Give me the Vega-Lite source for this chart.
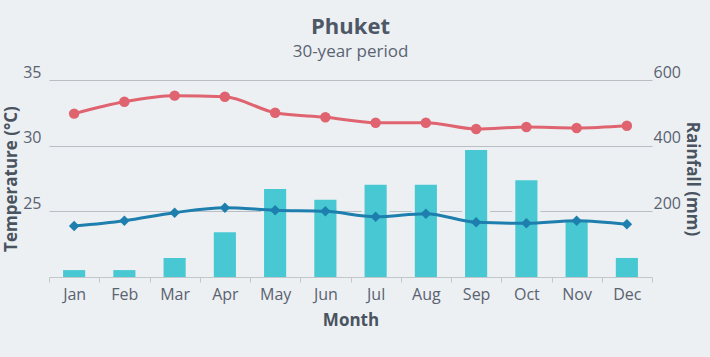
{
  "$schema": "https://vega.github.io/schema/vega-lite/v6.json",
  "autosize": {"type": "none"},
  "padding": {"left": 49, "top": 80, "right": 58, "bottom": 80},
  "width": 603,
  "height": 197,
  "background": "#ECF0F3",
  "title": {
    "text": "Phuket",
    "subtitle": "30-year period",
    "anchor": "middle",
    "font": "Open Sans",
    "fontSize": 22,
    "fontWeight": "bold",
    "color": "#4D5766",
    "subtitleFont": "Open Sans",
    "subtitleFontSize": 17,
    "subtitleColor": "#5A6372",
    "subtitlePadding": 5,
    "offset": 3
  },
  "data": {
    "values": [
      {"month": "Jan", "rain": 21, "tmax": 32.44, "tmin": 23.88},
      {"month": "Feb", "rain": 21, "tmax": 33.35, "tmin": 24.29},
      {"month": "Mar", "rain": 58, "tmax": 33.81, "tmin": 24.9},
      {"month": "Apr", "rain": 136, "tmax": 33.73, "tmin": 25.28},
      {"month": "May", "rain": 268, "tmax": 32.51, "tmin": 25.08},
      {"month": "Jun", "rain": 235, "tmax": 32.16, "tmin": 25.0},
      {"month": "Jul", "rain": 281, "tmax": 31.75, "tmin": 24.59},
      {"month": "Aug", "rain": 281, "tmax": 31.75, "tmin": 24.82},
      {"month": "Sep", "rain": 387, "tmax": 31.27, "tmin": 24.17},
      {"month": "Oct", "rain": 295, "tmax": 31.42, "tmin": 24.09},
      {"month": "Nov", "rain": 168, "tmax": 31.35, "tmin": 24.29},
      {"month": "Dec", "rain": 58, "tmax": 31.52, "tmin": 24.01}
    ]
  },
  "encoding": {
    "x": {
      "field": "month",
      "type": "nominal",
      "sort": null,
      "scale": {"paddingInner": 0, "paddingOuter": 0},
      "axis": {
        "title": "Month",
        "titleFont": "Open Sans",
        "titleFontSize": 17,
        "titleFontWeight": "bold",
        "titleColor": "#4A5360",
        "titlePadding": 10,
        "labelAngle": 0,
        "labelFont": "Open Sans",
        "labelFontSize": 16,
        "labelColor": "#5A6270",
        "labelPadding": 4,
        "tickBand": "extent",
        "tickSize": 5,
        "tickColor": "#C2C7CC",
        "domainColor": "#C2C7CC",
        "domainWidth": 1,
        "grid": false
      }
    }
  },
  "layer": [
    {
      "layer": [
        {
          "mark": {"type": "bar", "color": "#ECF0F3", "width": {"band": 0.56}, "yOffset": -3, "y2Offset": -1},
          "encoding": {
            "y": {"field": "rain", "type": "quantitative"}
          }
        },
        {
          "mark": {"type": "bar", "color": "#47C8D2", "width": {"band": 0.44}, "y2Offset": -1},
          "encoding": {
            "y": {"field": "rain", "type": "quantitative"}
          }
        }
      ],
      "encoding": {
        "y": {
          "field": "rain",
          "type": "quantitative",
          "scale": {"domain": [0, 600], "nice": false, "zero": true},
          "axis": {
            "orient": "right",
            "title": "Rainfall (mm)",
            "titleFont": "Open Sans",
            "titleFontSize": 17,
            "titleFontWeight": "bold",
            "titleColor": "#4A5360",
            "titlePadding": 2,
            "values": [200, 400, 600],
            "labelFont": "Open Sans",
            "labelFontSize": 16,
            "labelColor": "#5A6270",
            "labelPadding": 1,
            "labelBaseline": "alphabetic",
            "labelOffset": -3,
            "ticks": false,
            "domain": false,
            "grid": false
          }
        }
      }
    },
    {
      "transform": [{"fold": ["tmax", "tmin"], "as": ["series", "temp"]}],
      "encoding": {
        "y": {
          "field": "temp",
          "type": "quantitative",
          "scale": {"domain": [20, 35], "nice": false, "zero": false},
          "axis": {
            "orient": "left",
            "title": "Temperature (°C)",
            "titleFont": "Open Sans",
            "titleFontSize": 17,
            "titleFontWeight": "bold",
            "titleColor": "#4A5360",
            "titlePadding": 2,
            "values": [25, 30, 35],
            "labelFont": "Open Sans",
            "labelFontSize": 16,
            "labelColor": "#5A6270",
            "labelPadding": 8,
            "labelBaseline": "alphabetic",
            "labelOffset": -3,
            "ticks": false,
            "domain": false,
            "grid": true,
            "gridColor": "#B9BEC4",
            "gridWidth": 1.2
          }
        },
        "color": {
          "field": "series",
          "type": "nominal",
          "scale": {"domain": ["tmax", "tmin"], "range": ["#DF6470", "#1E7FAE"]},
          "legend": null
        }
      },
      "layer": [
        {
          "mark": {"type": "line", "interpolate": "monotone", "strokeWidth": 3}
        },
        {
          "mark": {"type": "point", "filled": true, "opacity": 1, "size": 110},
          "encoding": {
            "shape": {
              "field": "series",
              "type": "nominal",
              "scale": {"domain": ["tmax", "tmin"], "range": ["circle", "diamond"]},
              "legend": null
            }
          }
        }
      ]
    }
  ],
  "resolve": {"scale": {"y": "independent"}},
  "config": {
    "view": {"stroke": null},
    "font": "Open Sans"
  }
}
